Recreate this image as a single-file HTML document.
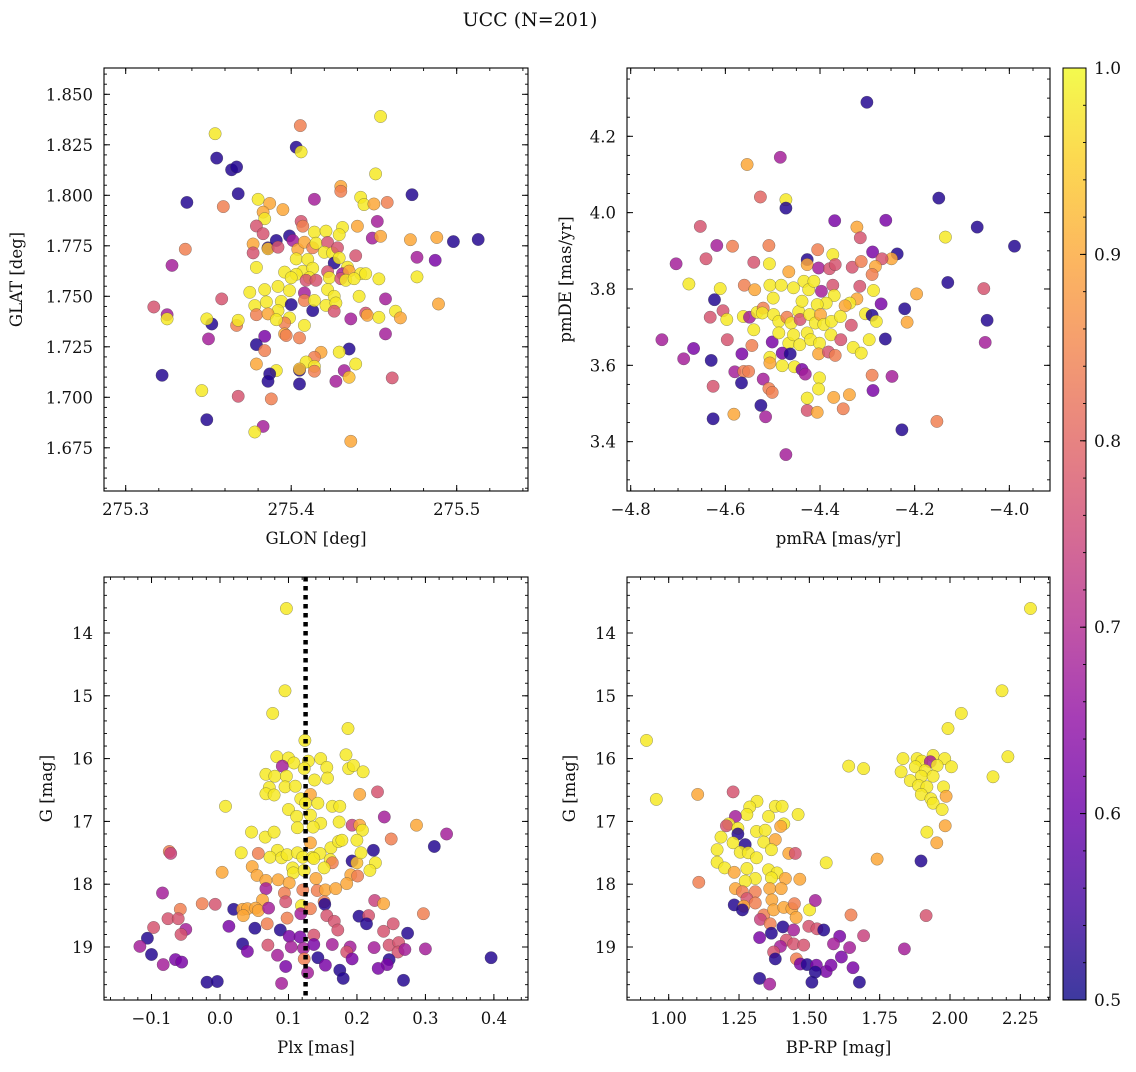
<!DOCTYPE html>
<html><head><meta charset="utf-8">
<style>
html,body{margin:0;padding:0;background:#fff;}
svg text{font-family:"DejaVu Serif","Liberation Serif",serif;fill:#111;}
</style></head>
<body>
<svg id="fig" width="1136" height="1067" viewBox="0 0 1136 1067" xmlns="http://www.w3.org/2000/svg">
<defs>
<linearGradient id="plasma" x1="0" y1="1" x2="0" y2="0">
<stop offset="0" stop-color="#0d0887"/><stop offset="0.1" stop-color="#41049d"/><stop offset="0.2" stop-color="#6a00a8"/><stop offset="0.3" stop-color="#8f0da4"/><stop offset="0.4" stop-color="#b12a90"/><stop offset="0.5" stop-color="#cc4778"/><stop offset="0.6" stop-color="#e16462"/><stop offset="0.7" stop-color="#f2844b"/><stop offset="0.8" stop-color="#fca636"/><stop offset="0.9" stop-color="#fcce25"/><stop offset="1" stop-color="#f0f921"/>
</linearGradient>
</defs>
<text x="530" y="26" font-size="19" text-anchor="middle">UCC (N=201)</text>
<g id="layer"></g>
</svg>
<script>
// ---- Data ----
const tlGlon=[275.454,275.4055,275.354,275.403,275.406,275.355,275.364,275.367,275.451,275.430,275.430,275.368,275.473,275.414,275.380,275.337,275.359,275.387,275.442,275.444,275.450,275.458,275.395,275.383,275.384,275.379,275.406,275.407,275.452,275.440,275.383,275.399,275.414,275.421,275.431,275.429,275.449,275.454,275.472,275.488,275.498,275.513,275.336,275.377,275.377,275.386,275.386,275.391,275.392,275.401,275.404,275.408,275.413,275.415,275.422,275.420,275.425,275.428,275.439,275.379,275.403,275.410,275.426,275.429,275.434,275.476,275.487,275.328,275.396,275.407,275.413,275.403,275.411,275.400,275.422,275.423,275.431,275.435,275.442,275.445,275.409,275.415,275.430,275.433,275.438,275.453,275.476,275.375,275.384,275.392,275.399,275.408,275.422,275.426,275.441,275.358,275.457,275.489,275.317,275.325,275.325,275.378,275.385,275.394,275.400,275.392,275.408,275.413,275.414,275.421,275.427,275.426,275.379,275.386,275.399,275.396,275.352,275.349,275.367,275.368,275.391,275.408,275.436,275.445,275.446,275.453,275.463,275.466,275.350,275.384,275.396,275.405,275.397,275.379,275.384,275.457,275.435,275.429,275.418,275.414,275.409,275.414,275.414,275.379,275.391,275.387,275.386,275.405,275.405,275.405,275.427,275.432,275.435,275.439,275.461,275.322,275.346,275.368,275.388,275.349,275.383,275.378,275.436];
const tlGlat=[1.839,1.8345,1.8305,1.8238,1.8215,1.8184,1.8126,1.8140,1.8106,1.8044,1.802,1.8008,1.8003,1.798,1.798,1.7965,1.7944,1.796,1.799,1.7954,1.7957,1.7965,1.7929,1.7917,1.7884,1.7848,1.7871,1.7847,1.7871,1.7847,1.7810,1.7799,1.7818,1.7823,1.7841,1.7805,1.7788,1.7797,1.7780,1.7791,1.7771,1.7781,1.7733,1.7759,1.7715,1.7740,1.7735,1.7776,1.7743,1.7776,1.7732,1.7768,1.7740,1.7763,1.7767,1.7718,1.7715,1.7740,1.7701,1.7643,1.7685,1.7682,1.7665,1.7690,1.7644,1.7693,1.7678,1.7653,1.7620,1.7624,1.7639,1.7609,1.7592,1.7592,1.7622,1.7592,1.7612,1.7625,1.7612,1.7612,1.7579,1.7579,1.7587,1.7579,1.7587,1.7586,1.7596,1.7520,1.7533,1.7549,1.7528,1.7517,1.7533,1.7500,1.7500,1.7487,1.7487,1.7462,1.7447,1.7409,1.7388,1.7454,1.7472,1.7475,1.7459,1.7429,1.7479,1.7429,1.7479,1.7455,1.7467,1.7426,1.7409,1.7413,1.7393,1.7368,1.7363,1.7388,1.7356,1.7381,1.7384,1.7356,1.7388,1.7417,1.7406,1.7396,1.7426,1.7393,1.7289,1.7302,1.7314,1.7294,1.7306,1.7261,1.7231,1.7314,1.7239,1.7224,1.7223,1.7198,1.7175,1.7153,1.7129,1.7165,1.7132,1.7116,1.7079,1.7134,1.7140,1.7066,1.7079,1.7132,1.7099,1.7165,1.7096,1.7109,1.7033,1.7005,1.6992,1.6889,1.6856,1.6828,1.6782];
const tlCol=[0.98,0.84,0.98,0.52,0.98,0.52,0.52,0.52,0.98,0.9,0.84,0.52,0.52,0.68,0.98,0.52,0.84,0.9,0.98,0.98,0.9,0.84,0.9,0.9,0.98,0.77,0.77,0.84,0.68,0.9,0.77,0.52,0.98,0.98,0.98,0.98,0.68,0.9,0.9,0.9,0.52,0.52,0.84,0.9,0.77,0.52,0.93,0.52,0.77,0.68,0.9,0.9,0.84,0.98,0.77,0.98,0.98,0.77,0.77,0.98,0.98,0.98,0.52,0.98,0.98,0.68,0.62,0.68,0.98,0.98,0.98,0.98,0.98,0.98,0.77,0.98,0.68,0.9,0.98,0.98,0.77,0.77,0.77,0.98,0.98,0.98,0.98,0.98,0.98,0.98,0.98,0.68,0.98,0.98,0.98,0.77,0.68,0.9,0.77,0.68,0.98,0.98,0.98,0.98,0.52,0.98,0.84,0.52,0.98,0.98,0.98,0.77,0.84,0.9,0.98,0.84,0.52,0.98,0.84,0.98,0.98,0.98,0.68,0.77,0.9,0.98,0.98,0.9,0.68,0.62,0.9,0.84,0.84,0.52,0.84,0.68,0.52,0.98,0.9,0.84,0.98,0.98,0.84,0.9,0.98,0.52,0.52,0.52,0.93,0.52,0.68,0.68,0.93,0.98,0.77,0.52,0.98,0.77,0.84,0.52,0.68,0.98,0.9];

const trPmra=[-4.301,-4.484,-4.554,-4.526,-4.472,-4.472,-4.149,-4.068,-3.989,-4.653,-4.369,-4.261,-4.322,-4.315,-4.135,-4.618,-4.585,-4.508,-4.405,-4.373,-4.289,-4.237,-4.249,-4.269,-4.704,-4.641,-4.540,-4.507,-4.427,-4.427,-4.403,-4.380,-4.368,-4.332,-4.313,-4.283,-4.290,-4.677,-4.611,-4.560,-4.538,-4.506,-4.482,-4.466,-4.456,-4.434,-4.424,-4.413,-4.397,-4.373,-4.370,-4.316,-4.287,-4.196,-4.130,-4.054,-4.623,-4.499,-4.387,-4.406,-4.322,-4.337,-4.347,-4.271,-4.221,-4.605,-4.632,-4.597,-4.562,-4.549,-4.533,-4.520,-4.522,-4.498,-4.487,-4.470,-4.461,-4.445,-4.438,-4.442,-4.422,-4.410,-4.399,-4.392,-4.376,-4.357,-4.334,-4.304,-4.290,-4.281,-4.216,-4.047,-4.734,-4.667,-4.688,-4.630,-4.596,-4.540,-4.544,-4.501,-4.487,-4.466,-4.456,-4.443,-4.427,-4.420,-4.401,-4.377,-4.356,-4.330,-4.313,-4.296,-4.262,-4.051,-4.565,-4.506,-4.480,-4.463,-4.403,-4.382,-4.368,-4.506,-4.480,-4.454,-4.580,-4.561,-4.551,-4.438,-4.431,-4.401,-4.403,-4.566,-4.520,-4.626,-4.290,-4.248,-4.288,-4.508,-4.501,-4.427,-4.371,-4.338,-4.525,-4.515,-4.427,-4.406,-4.351,-4.582,-4.626,-4.227,-4.153,-4.472];
const trPmde=[4.289,4.145,4.126,4.041,4.034,4.012,4.038,3.962,3.912,3.964,3.979,3.980,3.962,3.934,3.936,3.914,3.912,3.914,3.903,3.890,3.897,3.892,3.879,3.879,3.866,3.879,3.870,3.866,3.877,3.864,3.855,3.853,3.864,3.857,3.872,3.859,3.838,3.813,3.801,3.810,3.798,3.810,3.810,3.845,3.803,3.820,3.798,3.820,3.794,3.810,3.783,3.807,3.796,3.787,3.817,3.801,3.772,3.776,3.763,3.759,3.774,3.763,3.756,3.761,3.748,3.743,3.726,3.720,3.728,3.726,3.739,3.750,3.737,3.733,3.715,3.726,3.711,3.741,3.768,3.720,3.733,3.711,3.733,3.707,3.715,3.728,3.705,3.735,3.731,3.715,3.713,3.718,3.667,3.644,3.617,3.613,3.667,3.693,3.652,3.661,3.685,3.658,3.680,3.654,3.685,3.667,3.658,3.680,3.667,3.647,3.632,3.667,3.669,3.660,3.630,3.621,3.632,3.630,3.630,3.635,3.626,3.606,3.599,3.596,3.583,3.584,3.584,3.589,3.577,3.567,3.538,3.554,3.564,3.545,3.574,3.571,3.534,3.539,3.529,3.514,3.516,3.523,3.495,3.465,3.482,3.477,3.486,3.472,3.460,3.431,3.453,3.366];
const trCol=[0.52,0.68,0.9,0.8,0.98,0.52,0.52,0.52,0.52,0.77,0.62,0.62,0.9,0.77,0.98,0.68,0.84,0.84,0.84,0.98,0.62,0.52,0.9,0.77,0.68,0.77,0.77,0.98,0.52,0.9,0.68,0.77,0.77,0.77,0.84,0.9,0.84,0.98,0.98,0.84,0.9,0.98,0.98,0.9,0.98,0.98,0.98,0.98,0.68,0.77,0.98,0.77,0.98,0.9,0.52,0.77,0.52,0.98,0.98,0.98,0.9,0.98,0.9,0.62,0.52,0.77,0.77,0.98,0.98,0.68,0.98,0.84,0.98,0.98,0.98,0.84,0.98,0.98,0.98,0.77,0.98,0.98,0.9,0.98,0.98,0.98,0.77,0.98,0.52,0.98,0.9,0.52,0.68,0.62,0.68,0.52,0.77,0.98,0.84,0.62,0.98,0.98,0.98,0.98,0.98,0.98,0.98,0.98,0.77,0.98,0.98,0.98,0.52,0.68,0.62,0.98,0.62,0.52,0.9,0.77,0.84,0.9,0.98,0.98,0.68,0.84,0.84,0.62,0.68,0.98,0.98,0.52,0.68,0.77,0.84,0.68,0.62,0.84,0.84,0.98,0.9,0.9,0.52,0.68,0.77,0.9,0.84,0.9,0.52,0.52,0.84,0.68];

const blPlx=[0.097,0.095,0.077,0.187,0.124,0.083,0.100,0.108,0.129,0.147,0.184,0.091,0.123,0.156,0.188,0.195,0.209,0.067,0.080,0.097,0.138,0.157,0.072,0.095,0.110,0.067,0.079,0.132,0.204,0.230,0.118,0.143,0.125,0.164,0.175,0.008,0.100,0.112,0.132,0.174,0.147,0.136,0.113,0.193,0.204,0.208,0.240,0.287,0.331,0.313,0.046,0.066,0.079,0.132,0.162,0.173,0.178,0.200,0.250,0.224,-0.074,-0.072,0.031,0.056,0.084,0.073,0.090,0.098,0.113,0.121,0.135,0.146,0.137,0.161,0.164,0.193,0.200,0.206,0.227,0.219,0.003,0.047,0.054,0.106,0.107,0.123,0.152,0.191,0.201,0.067,0.085,0.101,0.140,0.185,0.067,0.094,0.121,0.142,0.154,0.169,-0.084,0.062,0.096,0.152,0.153,0.226,0.239,-0.026,-0.007,-0.058,0.020,0.033,0.040,0.052,0.056,0.071,0.119,0.132,0.118,-0.076,-0.061,0.034,0.098,0.156,0.203,0.217,0.297,-0.097,-0.050,-0.057,0.013,0.069,0.167,0.172,0.214,0.253,0.239,-0.106,0.051,0.088,0.101,0.117,0.137,0.274,-0.117,0.033,0.040,0.070,0.104,0.122,0.137,0.164,0.190,0.185,0.225,0.247,0.261,0.260,0.270,0.300,-0.100,-0.065,-0.056,-0.083,0.084,0.123,0.143,0.193,0.247,0.244,0.396,0.096,0.154,0.175,0.231,0.128,0.180,0.268,-0.019,-0.004,0.090];
const blG=[13.61,14.92,15.28,15.52,15.71,15.97,15.99,16.07,16.04,16.00,15.94,16.12,16.16,16.14,16.16,16.11,16.21,16.25,16.28,16.28,16.34,16.31,16.46,16.45,16.44,16.56,16.58,16.57,16.57,16.53,16.64,16.71,16.71,16.76,16.76,16.76,16.81,16.92,16.90,17.01,17.03,17.09,17.10,17.06,17.06,17.14,16.93,17.06,17.20,17.40,17.17,17.25,17.17,17.34,17.42,17.32,17.30,17.30,17.28,17.46,17.48,17.51,17.50,17.51,17.46,17.57,17.58,17.53,17.50,17.57,17.57,17.51,17.59,17.61,17.66,17.63,17.66,17.50,17.66,17.78,17.81,17.72,17.86,17.74,17.82,17.78,17.74,17.85,17.87,17.94,17.93,17.98,17.91,17.99,18.07,18.14,18.09,18.10,18.09,18.07,18.14,18.25,18.28,18.28,18.32,18.26,18.31,18.31,18.32,18.40,18.40,18.40,18.39,18.38,18.42,18.38,18.34,18.39,18.47,18.55,18.55,18.50,18.54,18.50,18.51,18.50,18.47,18.69,18.72,18.80,18.67,18.63,18.59,18.73,18.63,18.63,18.75,18.86,18.70,18.73,18.83,18.84,18.81,18.78,18.99,18.95,19.07,18.97,19.00,19.02,18.96,18.96,19.00,19.08,19.01,18.97,18.93,19.08,19.04,19.03,19.12,19.20,19.24,19.28,19.13,19.19,19.17,19.19,19.20,19.28,19.17,19.31,19.29,19.37,19.34,19.41,19.50,19.53,19.56,19.55,19.58];
const blCol=[0.98,0.98,0.98,0.98,0.98,0.98,0.98,0.98,0.98,0.98,0.98,0.68,0.98,0.98,0.98,0.98,0.98,0.98,0.98,0.98,0.98,0.98,0.98,0.98,0.98,0.98,0.98,0.9,0.9,0.77,0.98,0.98,0.98,0.98,0.98,0.98,0.98,0.98,0.98,0.98,0.98,0.98,0.98,0.74,0.9,0.98,0.68,0.9,0.68,0.52,0.98,0.98,0.98,0.9,0.98,0.98,0.98,0.98,0.84,0.52,0.84,0.74,0.98,0.84,0.98,0.98,0.98,0.98,0.98,0.98,0.98,0.98,0.98,0.98,0.84,0.52,0.93,0.98,0.98,0.98,0.9,0.9,0.9,0.98,0.98,0.98,0.98,0.9,0.84,0.9,0.9,0.9,0.9,0.9,0.68,0.84,0.84,0.84,0.9,0.9,0.68,0.9,0.77,0.84,0.52,0.74,0.9,0.84,0.77,0.84,0.52,0.9,0.9,0.9,0.9,0.68,0.98,0.84,0.68,0.77,0.77,0.9,0.84,0.77,0.52,0.77,0.84,0.77,0.68,0.77,0.62,0.84,0.77,0.77,0.52,0.77,0.77,0.52,0.52,0.52,0.62,0.62,0.77,0.52,0.68,0.52,0.62,0.77,0.68,0.68,0.62,0.68,0.68,0.77,0.68,0.77,0.77,0.77,0.68,0.68,0.52,0.62,0.62,0.68,0.68,0.84,0.52,0.62,0.52,0.62,0.52,0.62,0.62,0.52,0.62,0.68,0.52,0.52,0.52,0.52,0.68];
const plxRef=[0.125];

const brBprp=[2.286,2.185,2.040,1.993,0.921,2.206,1.833,1.883,1.940,1.981,1.900,1.930,1.640,1.693,2.005,1.877,1.826,1.912,1.954,1.898,1.940,2.153,1.859,1.888,1.918,1.977,1.986,1.898,1.932,1.940,1.972,1.983,1.918,1.953,1.897,1.915,0.956,1.103,1.107,1.229,1.314,1.288,1.278,1.237,1.213,1.205,1.246,1.246,1.355,1.379,1.403,1.460,1.409,1.398,1.312,1.343,1.186,1.229,1.338,1.379,1.272,1.172,1.254,1.283,1.312,1.365,1.427,1.450,1.560,1.741,1.172,1.199,1.233,1.278,1.355,1.385,1.308,1.272,1.365,1.415,1.466,1.237,1.262,1.308,1.359,1.400,1.278,1.367,1.233,1.267,1.308,1.262,1.338,1.373,1.409,1.438,1.447,1.453,1.501,1.521,1.648,1.326,1.361,1.406,1.498,1.527,1.551,1.693,1.323,1.365,1.444,1.608,1.418,1.444,1.480,1.397,1.373,1.379,1.454,1.468,1.586,1.643,1.614,1.838,1.492,1.525,1.560,1.577,1.655,1.521,1.323,1.359,1.509,1.678];
const brG=[13.61,14.92,15.28,15.52,15.71,15.97,16.00,16.00,15.95,16.00,16.04,16.05,16.12,16.16,16.13,16.13,16.21,16.19,16.11,16.28,16.28,16.29,16.35,16.43,16.45,16.45,16.60,16.57,16.64,16.71,16.81,17.07,17.17,17.34,17.63,18.50,16.65,16.57,17.97,16.53,16.68,16.77,16.89,16.92,17.04,17.07,17.11,17.20,16.92,16.76,16.76,16.89,17.04,17.08,17.16,17.14,17.25,17.34,17.33,17.29,17.37,17.45,17.49,17.50,17.58,17.45,17.51,17.51,17.66,17.60,17.65,17.74,17.81,17.75,17.77,17.82,17.91,17.95,17.90,17.91,17.92,18.07,18.12,18.12,18.07,18.07,18.23,18.25,18.33,18.35,18.30,18.41,18.49,18.41,18.37,18.39,18.31,18.53,18.41,18.26,18.49,18.56,18.63,18.68,18.67,18.71,18.73,18.82,18.85,18.78,18.73,18.83,18.89,18.95,18.97,18.99,19.08,19.19,19.19,19.27,18.95,19.01,19.16,19.03,19.28,19.29,19.39,19.29,19.33,19.40,19.50,19.59,19.56,19.56];
const brCol=[0.98,0.98,0.98,0.98,0.98,0.98,0.98,0.98,0.98,0.98,0.98,0.68,0.98,0.98,0.98,0.98,0.98,0.98,0.98,0.98,0.98,0.98,0.98,0.98,0.98,0.98,0.9,0.98,0.98,0.98,0.98,0.9,0.98,0.9,0.52,0.77,0.98,0.9,0.84,0.77,0.98,0.98,0.98,0.68,0.98,0.77,0.98,0.52,0.98,0.98,0.98,0.98,0.98,0.9,0.98,0.98,0.98,0.98,0.98,0.9,0.52,0.98,0.98,0.98,0.98,0.98,0.9,0.77,0.98,0.9,0.98,0.98,0.9,0.98,0.98,0.98,0.98,0.98,0.98,0.9,0.9,0.9,0.84,0.84,0.9,0.9,0.77,0.9,0.52,0.9,0.84,0.52,0.84,0.9,0.9,0.9,0.84,0.9,0.98,0.68,0.84,0.74,0.84,0.52,0.77,0.77,0.52,0.74,0.62,0.52,0.68,0.62,0.77,0.77,0.77,0.68,0.77,0.52,0.84,0.62,0.68,0.68,0.62,0.68,0.52,0.62,0.62,0.62,0.62,0.52,0.52,0.68,0.52,0.52];

const tlXTicks=[275.3,275.4,275.5], tlXLabels=["275.3","275.4","275.5"];
const tlYTicks=[1.675,1.700,1.725,1.750,1.775,1.800,1.825,1.850];
const trXTicks=[-4.8,-4.6,-4.4,-4.2,-4.0], trXLabels=["\u22124.8","\u22124.6","\u22124.4","\u22124.2","\u22124.0"];
const trYTicks=[3.4,3.6,3.8,4.0,4.2];
const blXTicks=[-0.1,0.0,0.1,0.2,0.3,0.4], blXLabels=["\u22120.1","0.0","0.1","0.2","0.3","0.4"];
const gTicks=[14,15,16,17,18,19];
const brXTicks=[1.00,1.25,1.50,1.75,2.00,2.25];
const cbTicks=[0.5,0.6,0.7,0.8,0.9,1.0];

const NS="http://www.w3.org/2000/svg";
const layer=document.getElementById('layer');
const stops=[[0,13,8,135],[0.1,65,4,157],[0.2,106,0,168],[0.3,143,13,164],[0.4,177,42,144],[0.5,204,71,120],[0.6,225,100,98],[0.7,242,132,75],[0.8,252,166,54],[0.9,252,206,37],[1,240,249,33]];
function plasma(v){let t=Math.max(0,Math.min(1,(v-0.5)/0.5));for(let i=1;i<stops.length;i++){if(t<=stops[i][0]){const a=stops[i-1],b=stops[i],f=(t-a[0])/(b[0]-a[0]);return `rgb(${Math.round(a[1]+f*(b[1]-a[1]))},${Math.round(a[2]+f*(b[2]-a[2]))},${Math.round(a[3]+f*(b[3]-a[3]))})`;}}return 'rgb(240,249,33)';}
function mk(tag,attrs,parent){const e=document.createElementNS(NS,tag);for(const k in attrs)e.setAttribute(k,attrs[k]);(parent||layer).appendChild(e);return e;}
function lin(v0,p0,k){return v=>p0+(v-v0)*k;}

function panel(o){
  const g=mk('g',{});
  
  
  const sx=o.sx, sy=o.sy, L=o.box[0],R=o.box[1],T=o.box[2],B=o.box[3];
  const xinv=p=>o.xv0+(p-o.xp0)/o.xk, yinv=p=>o.yv0+(p-o.yp0)/o.yk;
  const xa=Math.min(xinv(L),xinv(R)),xb=Math.max(xinv(L),xinv(R));
  const ya=Math.min(yinv(T),yinv(B)),yb=Math.max(yinv(T),yinv(B));
  const pts=mk('g',{},g);
  
  
  for(let i=0;i<o.xs.length;i++){
    const c=mk('circle',{cx:sx(o.xs[i]).toFixed(1),cy:sy(o.ys[i]).toFixed(1),r:6.2,fill:plasma(o.cs[i]),'fill-opacity':0.84,stroke:'rgba(60,60,60,0.55)','stroke-width':0.5},pts);
    
    
  }
  if(o.vline){for(const v of o.vline){const l=mk('line',{x1:sx(v),x2:sx(v),y1:T,y2:B,stroke:'#000','stroke-width':4.5,'stroke-dasharray':'4.5 4.5'},g);
    
    }}
  const fr=mk('rect',{x:L,y:T,width:R-L,height:B-T,fill:'none',stroke:'#000','stroke-width':1.1},g);
  
  
  for(let v=Math.ceil(xa/o.xminor-1e-6)*o.xminor; v<=xb+1e-9; v+=o.xminor){const p=sx(v);mk('line',{x1:p,x2:p,y1:B,y2:B-3,stroke:'#000','stroke-width':0.9},g);mk('line',{x1:p,x2:p,y1:T,y2:T+3,stroke:'#000','stroke-width':0.9},g);}
  for(let v=Math.ceil(ya/o.yminor-1e-6)*o.yminor; v<=yb+1e-9; v+=o.yminor){const p=sy(v);mk('line',{y1:p,y2:p,x1:L,x2:L+3,stroke:'#000','stroke-width':0.9},g);mk('line',{y1:p,y2:p,x1:R,x2:R-3,stroke:'#000','stroke-width':0.9},g);}
  o.xt.forEach((v,i)=>{const p=sx(v);mk('line',{x1:p,x2:p,y1:B,y2:B-6,stroke:'#000','stroke-width':1},g);mk('line',{x1:p,x2:p,y1:T,y2:T+6,stroke:'#000','stroke-width':1},g);
    const t=mk('text',{x:p,y:B+24,'font-size':16.5,'text-anchor':'middle'},g);t.textContent=o.xl[i];
    
    });
  o.yt.forEach((v,i)=>{const p=sy(v);mk('line',{y1:p,y2:p,x1:L,x2:L+6,stroke:'#000','stroke-width':1},g);mk('line',{y1:p,y2:p,x1:R,x2:R-6,stroke:'#000','stroke-width':1},g);
    const t=mk('text',{x:L-11,y:p+6,'font-size':16.5,'text-anchor':'end'},g);t.textContent=o.yl[i];
    
    });
  const xt=mk('text',{x:(L+R)/2,y:B+53,'font-size':16.5,'text-anchor':'middle'},g);xt.textContent=o.xlabel;
  
  
  const yt=mk('text',{x:o.ylx,y:(T+B)/2,'font-size':16.5,'text-anchor':'middle',transform:`rotate(-90 ${o.ylx} ${(T+B)/2})`},g);yt.textContent=o.ylabel;
  
  
}

function mkPanel(name,box,xv0,xp0,xk,yv0,yp0,yk,rest){
  return Object.assign({name,box,xv0,xp0,xk,yv0,yp0,yk,sx:lin(xv0,xp0,xk),sy:lin(yv0,yp0,yk)},rest);
}
panel(mkPanel('panel-glon-glat',[104,528,68,491],275.3,125.7,1655,1.85,94.3,-2020,{xs:tlGlon,ys:tlGlat,cs:tlCol,xt:tlXTicks,xl:tlXLabels,yt:tlYTicks,yl:tlYTicks.map(v=>v.toFixed(3)),xminor:0.02,yminor:0.005,xlabel:'GLON [deg]',ylabel:'GLAT [deg]',ylx:22}));
panel(mkPanel('panel-pmra-pmde',[627,1050,68,491],-4.8,630.7,473.3,4.2,136.3,-381.7,{xs:trPmra,ys:trPmde,cs:trCol,xt:trXTicks,xl:trXLabels,yt:trYTicks,yl:trYTicks.map(v=>v.toFixed(1)),xminor:0.05,yminor:0.05,xlabel:'pmRA [mas/yr]',ylabel:'pmDE [mas/yr]',ylx:571}));
panel(mkPanel('panel-plx-g',[104,528,577,1000],0,220,684.7,14,633,62.8,{xs:blPlx,ys:blG,cs:blCol,xt:blXTicks,xl:blXLabels,yt:gTicks,yl:gTicks.map(String),xminor:0.02,yminor:0.2,xlabel:'Plx [mas]',ylabel:'G [mag]',ylx:52,vline:plxRef}));
panel(mkPanel('panel-bprp-g',[627,1050,577,1000],1,668.7,281.3,14,633,62.8,{xs:brBprp,ys:brG,cs:brCol,xt:brXTicks,xl:brXTicks.map(v=>v.toFixed(2)),yt:gTicks,yl:gTicks.map(String),xminor:0.05,yminor:0.2,xlabel:'BP-RP [mag]',ylabel:'G [mag]',ylx:575}));

const cb=mk('g',{});


mk('rect',{x:1063,y:68,width:23,height:932,fill:'url(#plasma)','fill-opacity':0.8},cb);
mk('rect',{x:1063,y:68,width:23,height:932,fill:'none',stroke:'#000','stroke-width':1},cb);
const cy=v=>1000-(v-0.5)/0.5*932;
for(let v=0.5;v<=1.0001;v+=0.02){mk('line',{x1:1086,x2:1083,y1:cy(v),y2:cy(v),stroke:'#000','stroke-width':0.9},cb);}
cbTicks.forEach(v=>{mk('line',{x1:1086,x2:1080,y1:cy(v),y2:cy(v),stroke:'#000','stroke-width':1},cb);
  const t=mk('text',{x:1094,y:cy(v)+6,'font-size':17},cb);t.textContent=v.toFixed(1);
  
  });
</script>
</body></html>
